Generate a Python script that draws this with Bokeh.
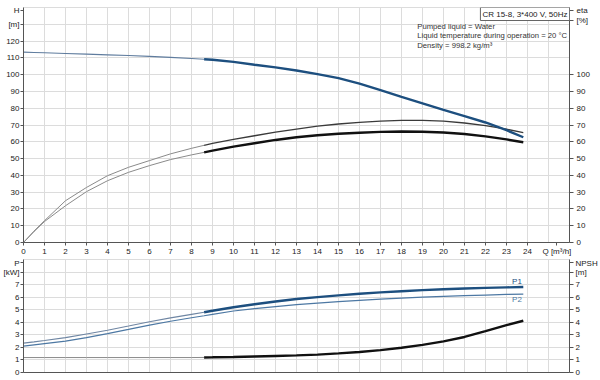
from bokeh.plotting import figure
from bokeh.models import FixedTicker, LinearAxis, Label, Range1d
from bokeh.layouts import column
from bokeh.embed import file_html
from bokeh.resources import INLINE

FONT = "Liberation Sans"

# ---- data ----
q = [0, 0.5, 1, 2, 3, 4, 5, 6, 7, 8, 8.6, 9, 10, 11, 12, 13, 14, 15, 16, 17, 18, 19, 20, 21, 22, 23, 23.8]
head = [113.4, 113.2, 113.0, 112.6, 112.2, 111.8, 111.4, 110.9, 110.3, 109.6, 109.2, 108.9, 107.6, 105.9,
        104.3, 102.5, 100.3, 97.9, 94.6, 90.8, 86.7, 82.9, 79.0, 75.3, 71.5, 66.9, 62.7]
eta_a = [0, 6.8, 13.0, 24.9, 32.8, 39.8, 44.8, 48.8, 52.8, 56.1, 57.9, 59.1, 61.4, 63.6, 65.7, 67.6, 69.3,
         70.6, 71.6, 72.3, 72.7, 72.7, 72.3, 71.2, 69.6, 67.5, 65.5]
eta_b = [0, 6.5, 12.5, 21.9, 30.3, 36.8, 41.8, 45.8, 49.4, 52.2, 53.7, 54.7, 57.1, 59.1, 61.1, 62.7, 63.9,
         64.8, 65.4, 65.9, 66.1, 66.0, 65.5, 64.6, 63.2, 61.4, 59.7]
p1 = [2.34, 2.44, 2.55, 2.78, 3.07, 3.37, 3.70, 4.04, 4.35, 4.63, 4.80, 4.92, 5.20, 5.44, 5.66, 5.85, 6.00,
      6.14, 6.27, 6.38, 6.47, 6.56, 6.63, 6.69, 6.74, 6.78, 6.81]
p2 = [2.10, 2.20, 2.30, 2.50, 2.78, 3.10, 3.43, 3.77, 4.08, 4.36, 4.52, 4.63, 4.90, 5.09, 5.25, 5.40, 5.53,
      5.64, 5.74, 5.84, 5.93, 6.00, 6.06, 6.12, 6.17, 6.22, 6.25]
npsh = [1.19, 1.19, 1.19, 1.19, 1.19, 1.19, 1.19, 1.19, 1.19, 1.19, 1.20, 1.21, 1.24, 1.28, 1.32, 1.36, 1.42,
        1.52, 1.63, 1.78, 1.97, 2.20, 2.48, 2.83, 3.29, 3.77, 4.12]
duty_start = 8.6

x_grid = list(range(0, 27))
x_ticks = list(range(0, 25)) + [25.4]
x_labels = {25.4: "Q [m\u00b3/h]"}
h_grid = list(range(0, 141, 10))
h_ticks = list(range(0, 131, 10)) + [138]
h_labels = {130: "[m]", 138: "H"}
eta_ticks = list(range(0, 101, 10)) + [132, 138]
eta_labels = {132: "[%]", 138: "eta"}
p_grid = list(range(0, 10))
p_ticks = list(range(0, 9)) + [8.75]
p_labels = {8: "[kW]", 8.75: "P"}
npsh_ticks = list(range(0, 9)) + [8.75]
npsh_labels = {8: "[m]", 8.75: "NPSH"}

title_text = "CR 15-8, 3*400 V, 50Hz"
info_lines = ["Pumped liquid = Water",
              "Liquid temperature during operation = 20 \u00b0C",
              "Density = 998.2 kg/m\u00b3"]

GRID = "#dcdcdc"
AXIS = "#555555"
TXT = "#222222"
BLUE = "#1d4f7f"


def lo(xs, ys):
    pts = [(x, y) for x, y in zip(xs, ys) if x <= duty_start]
    return [a for a, _ in pts], [b for _, b in pts]


def hi(xs, ys):
    pts = [(x, y) for x, y in zip(xs, ys) if x >= duty_start]
    return [a for a, _ in pts], [b for _, b in pts]


def style_axis(ax, ticks, overrides=None, tick_out=3, standoff=1):
    ax.ticker = FixedTicker(ticks=ticks)
    ax.axis_line_color = AXIS
    ax.major_tick_line_color = AXIS
    ax.minor_tick_line_color = None
    ax.major_tick_out = tick_out
    ax.major_tick_in = 0
    ax.major_label_standoff = standoff
    ax.major_label_text_font = FONT
    ax.major_label_text_font_size = "8px"
    ax.major_label_text_color = TXT
    if overrides:
        ax.major_label_overrides = overrides


def txt(p, x, y, s, align="center", baseline="middle", color=TXT, size="8px"):
    p.add_layout(Label(x=x, y=y, text=s, text_font=FONT, text_font_size=size, text_color=color,
                       text_align=align, text_baseline=baseline))


xr = Range1d(0, 26)

# ---------------- top panel ----------------
pt = figure(width=600, height=258, x_range=xr, y_range=Range1d(0, 140), output_backend="svg",
            toolbar_location=None, min_border_left=20, min_border_right=30, min_border_top=7,
            min_border_bottom=16)
pt.outline_line_color = GRID
style_axis(pt.xaxis[0], x_ticks, x_labels)
style_axis(pt.yaxis[0], h_ticks, h_labels)
pt.xgrid.ticker = FixedTicker(ticks=x_grid)
pt.ygrid.ticker = FixedTicker(ticks=h_grid)
pt.xgrid.grid_line_color = GRID
pt.ygrid.grid_line_color = GRID
ax_eta = LinearAxis()
style_axis(ax_eta, eta_ticks, eta_labels, tick_out=4, standoff=3)
pt.add_layout(ax_eta, "right")

# efficiency curves
x, y = lo(q, eta_a); pt.line(x, y, line_color="#8a8a8a", line_width=1)
x, y = lo(q, eta_b); pt.line(x, y, line_color="#8a8a8a", line_width=1)
x, y = hi(q, eta_a); pt.line(x, y, line_color="#3a3a3a", line_width=1.3)
x, y = hi(q, eta_b); pt.line(x, y, line_color="#111111", line_width=2.4)
# head curve
x, y = lo(q, head); pt.line(x, y, line_color="#5f7c9e", line_width=1.1)
x, y = hi(q, head); pt.line(x, y, line_color=BLUE, line_width=2.4)

pt.add_layout(Label(x=26, y=140, text=title_text, text_font=FONT, text_font_size="8px", text_color=TXT,
                    text_align="right", text_baseline="top", border_line_color="#666666",
                    background_fill_color="white", padding=2))
for i, s in enumerate(info_lines):
    txt(pt, 18.75, 128.8 - 5.7 * i, s, align="left", color="#333333", size="7.7px")

# ---------------- bottom panel ----------------
pb = figure(width=600, height=122, x_range=xr, y_range=Range1d(0, 9), output_backend="svg",
            toolbar_location=None, min_border_left=20, min_border_right=30, min_border_top=1,
            min_border_bottom=8)
pb.outline_line_color = GRID
style_axis(pb.xaxis[0], [])
style_axis(pb.yaxis[0], p_ticks, p_labels)
pb.xgrid.ticker = FixedTicker(ticks=x_grid)
pb.ygrid.ticker = FixedTicker(ticks=p_grid)
pb.xgrid.grid_line_color = GRID
pb.ygrid.grid_line_color = GRID
ax_npsh = LinearAxis()
style_axis(ax_npsh, npsh_ticks, npsh_labels, tick_out=4, standoff=2)
pb.add_layout(ax_npsh, "right")

x, y = lo(q, npsh); pb.line(x, y, line_color="#8a8a8a", line_width=1)
x, y = hi(q, npsh); pb.line(x, y, line_color="#111111", line_width=2.4)
pb.line(q, p2, line_color="#4d78a3", line_width=1.2)
x, y = lo(q, p1); pb.line(x, y, line_color="#6f86a3", line_width=1.1)
x, y = hi(q, p1); pb.line(x, y, line_color=BLUE, line_width=2.4)

txt(pb, 23.5, 7.25, "P1", color=BLUE)
txt(pb, 23.5, 5.8, "P2", color="#4d78a3")

layout = column(pt, pb, spacing=0)
open("out.html", "w").write(file_html(layout, INLINE))
